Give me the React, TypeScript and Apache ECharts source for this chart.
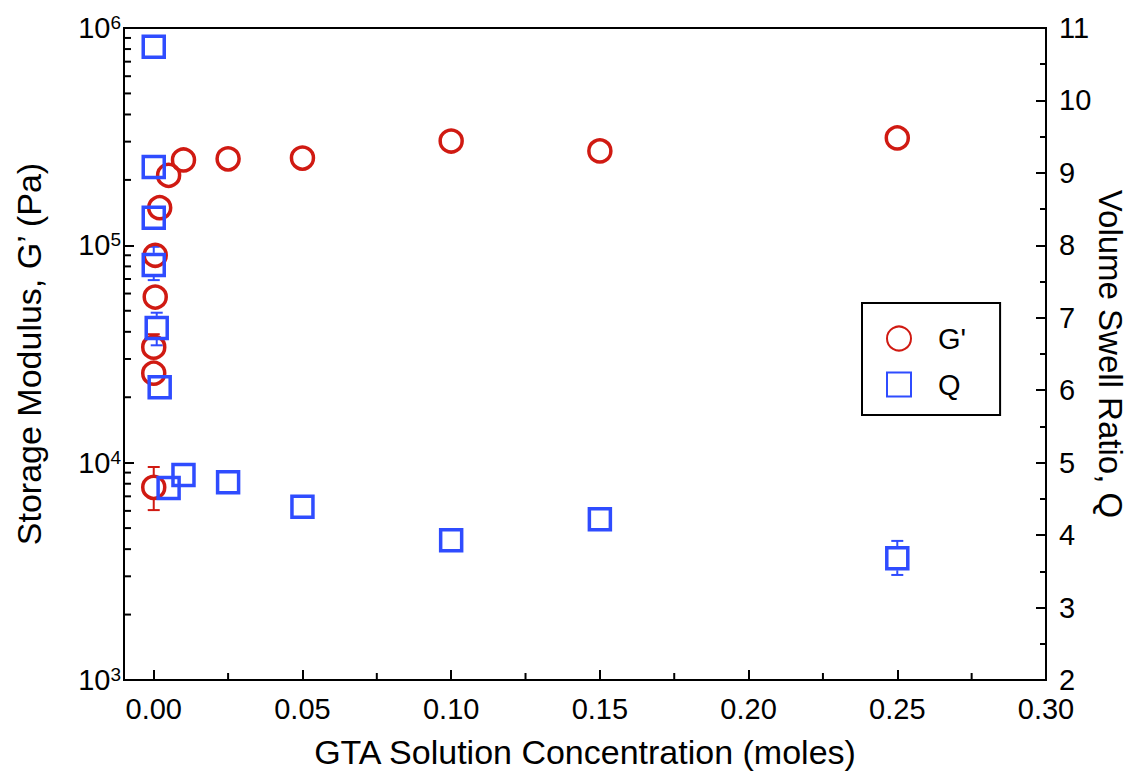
import React, { useEffect, useRef } from 'react';
import * as echarts from 'echarts';

// ---- Data ----
const xMin = -0.01;
const xMax = 0.3;

// Storage modulus G' (Pa), left log axis
const gConc = [0, 0, 0, 0.0005, 0.0005, 0.002, 0.005, 0.01, 0.025, 0.05, 0.1, 0.15, 0.25];
const gValues = [7700, 25800, 34000, 57800, 90000, 149000, 210000, 247000, 250000, 252000, 302000, 272000, 312000];

// G' error bars
const gErrConc = [0, 0, 0.005];
const gErrValue = [7700, 34000, 210000];
const gErrLow = [6050, 30000, 185000];
const gErrHigh = [9550, 39000, 235000];

// Volume swell ratio Q, right axis
const qConc = [0, 0, 0, 0, 0.001, 0.002, 0.005, 0.01, 0.025, 0.05, 0.1, 0.15, 0.25];
const qValues = [10.74, 9.08, 8.38, 7.73, 6.86, 6.04, 4.65, 4.83, 4.73, 4.39, 3.93, 4.22, 3.68];

// Q error bars
const qErrConc = [0, 0.001, 0.25];
const qErrValue = [7.73, 6.86, 3.68];
const qErrLow = [7.52, 6.62, 3.45];
const qErrHigh = [7.98, 7.07, 3.92];

// Minor tick positions
const logMinorTicks = [
  2000, 3000, 4000, 5000, 6000, 7000, 8000, 9000,
  20000, 30000, 40000, 50000, 60000, 70000, 80000, 90000,
  200000, 300000, 400000, 500000, 600000, 700000, 800000, 900000,
];
const xMinorTicks = [0.025, 0.075, 0.125, 0.175, 0.225, 0.275];

const RED = '#d01a12';
const BLUE = '#2f4cff';
const FONT = "'Liberation Sans', Arial, Helvetica, sans-serif";

const makeErrRender = (color: string, r: number) => (params: any, api: any) => {
  const x = api.value(0);
  const y = api.value(1);
  const lo = api.value(2);
  const hi = api.value(3);
  const c = api.coord([x, y]);
  const pl = api.coord([x, lo]);
  const ph = api.coord([x, hi]);
  const cap = 6;
  const style = { stroke: color, lineWidth: 2 };
  const children: any[] = [];
  if (pl[1] > c[1] + r) {
    children.push({ type: 'line', shape: { x1: c[0], y1: c[1] + r, x2: c[0], y2: pl[1] }, style });
    children.push({ type: 'line', shape: { x1: c[0] - cap, y1: pl[1], x2: c[0] + cap, y2: pl[1] }, style });
  }
  if (ph[1] < c[1] - r) {
    children.push({ type: 'line', shape: { x1: c[0], y1: c[1] - r, x2: c[0], y2: ph[1] }, style });
    children.push({ type: 'line', shape: { x1: c[0] - cap, y1: ph[1], x2: c[0] + cap, y2: ph[1] }, style });
  }
  return { type: 'group', children };
};

export default function App() {
  const ref = useRef<HTMLDivElement>(null);
  useEffect(() => {
    const prevOverflow = document.body.style.overflow;
    document.body.style.overflow = 'hidden';
    const chart = echarts.init(ref.current!, null, { renderer: 'svg', width: 1128, height: 774 });
    const option: any = {
      animation: false,
      backgroundColor: '#ffffff',
      textStyle: { fontFamily: FONT, color: '#000' },
      grid: {
        left: 124,
        right: 82,
        top: 28,
        bottom: 94,
        containLabel: false,
        outerBoundsMode: 'none',
        show: true,
        borderColor: '#000',
        borderWidth: 2,
        backgroundColor: 'transparent',
      },
      legend: {
        orient: 'vertical',
        left: 862,
        top: 303,
        padding: [21, 34, 16, 24],
        itemWidth: 24,
        itemHeight: 24,
        itemGap: 17,
        borderColor: '#000',
        borderWidth: 2,
        backgroundColor: '#fff',
        textStyle: { fontSize: 29, fontFamily: FONT, color: '#000', padding: [0, 0, 0, 22] },
        data: ["G'", 'Q'],
      },
      xAxis: {
        type: 'value',
        min: xMin,
        max: xMax,
        splitNumber: 6,
        name: 'GTA Solution Concentration (moles)',
        nameLocation: 'middle',
        nameGap: 55,
        nameTextStyle: { fontSize: 34, fontFamily: FONT, color: '#000' },
        axisLine: { show: true, onZero: false, lineStyle: { color: '#000', width: 2 } },
        axisTick: { show: true, inside: true, length: 10, lineStyle: { color: '#000', width: 2 } },
        axisLabel: {
          fontSize: 29,
          lineHeight: 26,
          fontFamily: FONT,
          color: '#000',
          margin: 16,
          formatter: (v: number) => (v < -1e-9 ? '' : v.toFixed(2)),
        },
        splitLine: { show: false },
      },
      yAxis: [
        {
          type: 'log',
          logBase: 10,
          min: 1000,
          max: 1000000,
          position: 'left',
          name: 'Storage Modulus, G\u2019 (Pa)',
          nameLocation: 'middle',
          nameRotate: 90,
          nameGap: 78,
          nameTextStyle: { fontSize: 34, fontFamily: FONT, color: '#000' },
          axisLine: { show: true, onZero: false, lineStyle: { color: '#000', width: 2 } },
          axisTick: { show: true, inside: true, length: 10, lineStyle: { color: '#000', width: 2 } },
          axisLabel: {
            margin: 3,
            formatter: (v: number) => `{b|10}{s|${Math.round(Math.log10(v))}}`,
            rich: {
              b: { fontSize: 29, fontFamily: FONT, color: '#000', lineHeight: 30 },
              s: { fontSize: 19, fontFamily: FONT, color: '#000', verticalAlign: 'top', lineHeight: 19 },
            },
          },
          splitLine: { show: false },
        },
        {
          type: 'value',
          min: 2,
          max: 11,
          interval: 1,
          position: 'right',
          name: 'Volume Swell Ratio, Q',
          nameLocation: 'middle',
          nameRotate: -90,
          nameGap: 47,
          nameMoveOverlap: false,
          nameTextStyle: { fontSize: 33, lineHeight: 34, fontFamily: FONT, color: '#000' },
          axisLine: { show: true, onZero: false, lineStyle: { color: '#000', width: 2 } },
          axisTick: { show: true, inside: true, length: 10, lineStyle: { color: '#000', width: 2 } },
          minorTick: { show: true, splitNumber: 2, length: 6, lineStyle: { color: '#000', width: 2 } },
          axisLabel: { fontSize: 29, lineHeight: 26, fontFamily: FONT, color: '#000', margin: 13 },
          splitLine: { show: false },
          minorSplitLine: { show: false },
        },
      ],
      series: [
        {
          type: 'custom',
          name: 'logMinor',
          xAxisIndex: 0,
          yAxisIndex: 0,
          silent: true,
          data: logMinorTicks.map((v) => [xMin, v]),
          encode: { x: 0, y: 1 },
          renderItem: (params: any, api: any) => {
            const p = api.coord([api.value(0), api.value(1)]);
            const x0 = params.coordSys.x;
            return {
              type: 'line',
              shape: { x1: x0, y1: p[1], x2: x0 + 7, y2: p[1] },
              style: { stroke: '#000', lineWidth: 2 },
            };
          },
        },
        {
          type: 'custom',
          name: 'xMinor',
          xAxisIndex: 0,
          yAxisIndex: 0,
          silent: true,
          data: xMinorTicks.map((v) => [v, 1000]),
          encode: { x: 0, y: 1 },
          renderItem: (params: any, api: any) => {
            const p = api.coord([api.value(0), api.value(1)]);
            const yb = params.coordSys.y + params.coordSys.height;
            return {
              type: 'line',
              shape: { x1: p[0], y1: yb, x2: p[0], y2: yb - 7 },
              style: { stroke: '#000', lineWidth: 2 },
            };
          },
        },
        {
          type: 'custom',
          name: 'gErr',
          xAxisIndex: 0,
          yAxisIndex: 0,
          silent: true,
          data: gErrConc.map((x, i) => [x, gErrValue[i], gErrLow[i], gErrHigh[i]]),
          encode: { x: 0, y: [1, 2, 3] },
          renderItem: makeErrRender(RED, 12),
        },
        {
          type: 'custom',
          name: 'qErr',
          xAxisIndex: 0,
          yAxisIndex: 1,
          silent: true,
          data: qErrConc.map((x, i) => [x, qErrValue[i], qErrLow[i], qErrHigh[i]]),
          encode: { x: 0, y: [1, 2, 3] },
          renderItem: makeErrRender(BLUE, 12),
        },
        {
          type: 'scatter',
          name: "G'",
          xAxisIndex: 0,
          yAxisIndex: 0,
          symbol: 'circle',
          symbolSize: 22,
          itemStyle: { color: 'rgba(255,255,255,0)', borderColor: RED, borderWidth: 3.5, opacity: 1 },
          data: gConc.map((x, i) => [x, gValues[i]]),
          z: 5,
        },
        {
          type: 'scatter',
          name: 'Q',
          xAxisIndex: 0,
          yAxisIndex: 1,
          symbol: 'rect',
          symbolSize: 21,
          itemStyle: { color: 'rgba(255,255,255,0)', borderColor: BLUE, borderWidth: 3.5, opacity: 1 },
          data: qConc.map((x, i) => [x, qValues[i]]),
          z: 5,
        },
      ],
    };
    chart.setOption(option);
    return () => {
      chart.dispose();
      document.body.style.overflow = prevOverflow;
    };
  }, []);
  return (
    <div
      ref={ref}
      style={{ position: 'fixed', left: 0, top: 0, width: 1128, height: 774, background: '#fff' }}
    />
  );
}
